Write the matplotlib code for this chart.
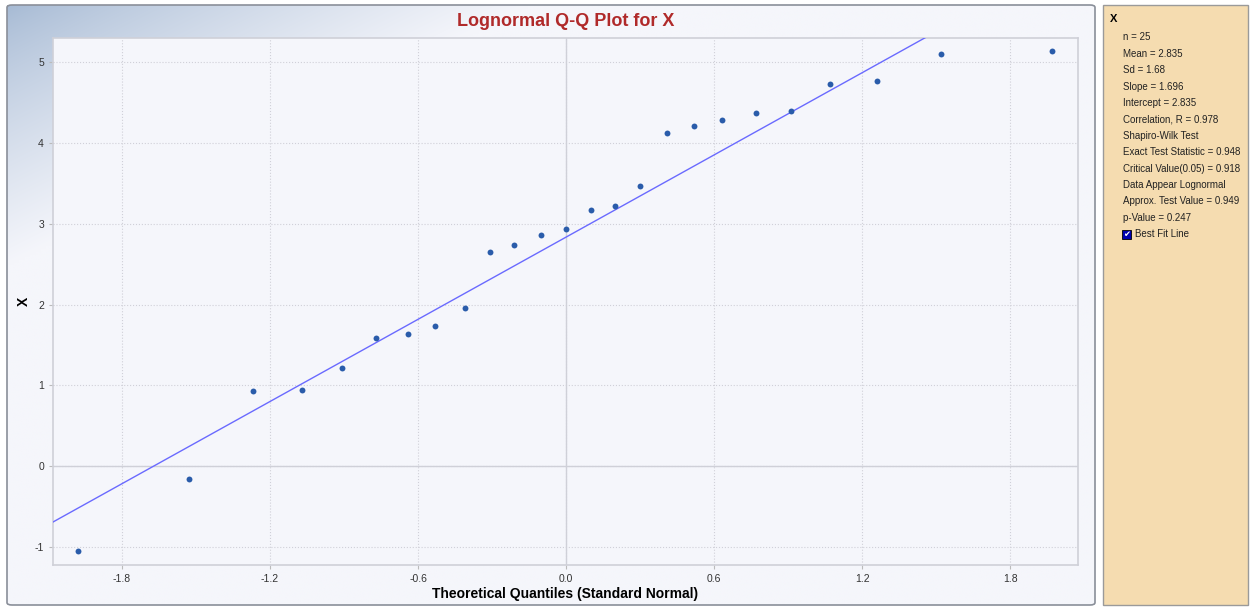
import numpy as np
import matplotlib
matplotlib.use('Agg')
import matplotlib.pyplot as plt
from matplotlib.patches import FancyBboxPatch, Rectangle

plt.rcParams['font.family'] = ['Liberation Sans', 'DejaVu Sans']
plt.rcParams['axes.unicode_minus'] = False

# 理论分位数与样本值
theo_q = [-1.98, -1.53, -1.27, -1.07, -0.91, -0.77, -0.64, -0.53, -0.41, -0.31,
          -0.21, -0.10, 0.00, 0.10, 0.20, 0.30, 0.41, 0.52, 0.63, 0.77,
          0.91, 1.07, 1.26, 1.52, 1.97]
x_vals = [-1.05, -0.16, 0.93, 0.94, 1.21, 1.58, 1.63, 1.73, 1.96, 2.65,
          2.74, 2.86, 2.93, 3.17, 3.22, 3.47, 4.12, 4.21, 4.29, 4.37,
          4.39, 4.73, 4.77, 5.10, 5.14]
slope = 1.696
intercept = 2.835
x_ticks = [-1.8, -1.2, -0.6, 0.0, 0.6, 1.2, 1.8]
y_ticks = [-1, 0, 1, 2, 3, 4, 5]
stats_lines = ['n = 25', 'Mean = 2.835', 'Sd = 1.68', 'Slope = 1.696',
               'Intercept = 2.835', 'Correlation, R = 0.978', 'Shapiro-Wilk Test',
               'Exact Test Statistic = 0.948', 'Critical Value(0.05) = 0.918',
               'Data Appear Lognormal', 'Approx. Test Value = 0.949',
               'p-Value = 0.247']

W, H = 1250, 607
fig = plt.figure(figsize=(W / 100, H / 100), dpi=100)
fig.patch.set_facecolor('white')

# 背景渐变（左上角偏蓝）
bg = fig.add_axes([7 / W, 1 - 605 / H, (1095 - 7) / W, 600 / H], zorder=0)
xx, yy = np.meshgrid(np.linspace(0, 1088, 400), np.linspace(0, 600, 220))
t = np.clip(xx / 520 + yy / 260, 0, 1) ** 0.8
c0 = np.array([166, 186, 212]) / 255
c1 = np.array([245, 246, 251]) / 255
img = c0[None, None, :] * (1 - t[..., None]) + c1[None, None, :] * t[..., None]
bg.imshow(img, aspect='auto', extent=[0, 1, 0, 1], interpolation='bilinear')
bg.set_axis_off()
fig.patches.append(FancyBboxPatch((7 / W, 1 - 605 / H), (1095 - 7) / W, 600 / H,
                                  boxstyle='round,pad=0,rounding_size=0.004',
                                  transform=fig.transFigure, facecolor='none',
                                  edgecolor='#8a8f99', linewidth=1.2, zorder=5))

# 右侧统计面板
fig.patches.append(Rectangle((1103 / W, 1 - 605 / H), (1248 - 1103) / W, 600 / H,
                             transform=fig.transFigure, facecolor='#f5dcb0',
                             edgecolor='#9a9a9a', linewidth=1.0, zorder=1))
fig.text(1110 / W, 1 - 19 / H, 'X', fontsize=8, fontweight='bold', va='center',
         color='black')
for i, s in enumerate(stats_lines):
    fig.text(1123 / W, 1 - (37.5 + i * 16.4) / H, s, fontsize=7, va='center',
             color='#222222')
yb = 37.5 + len(stats_lines) * 16.4
fig.patches.append(Rectangle((1122 / W, 1 - (yb + 4.5) / H), 9 / W, 9 / H,
                             transform=fig.transFigure, facecolor='#0000b0',
                             edgecolor='black', linewidth=0.6, zorder=6))
fig.text(1126.5 / W, 1 - yb / H, '\u2714', fontsize=6, color='white', ha='center',
         va='center', family=['DejaVu Sans'], zorder=7)
fig.text(1135 / W, 1 - yb / H, 'Best Fit Line', fontsize=7, va='center',
         color='#222222')

# 主图
ax = fig.add_axes([53 / W, 1 - 565 / H, (1078 - 53) / W, (565 - 38) / H], zorder=2)
ax.set_facecolor('#f5f6fb')
ax.set_xlim(-2.08, 2.075)
ax.set_ylim(-1.225, 5.3)
ax.grid(True, color='#d0d0d8', linestyle=':', linewidth=0.8)
ax.axhline(0, color='#cfd0d8', linewidth=1.0, zorder=1)
ax.axvline(0, color='#cfd0d8', linewidth=1.0, zorder=1)
xl = np.array(ax.get_xlim())
ax.plot(xl, intercept + slope * xl, color='#6a6aff', linewidth=1.0, zorder=3)
ax.scatter(theo_q, x_vals, s=18, color='#2a5caa', zorder=4, linewidths=0)
ax.set_xticks(x_ticks)
ax.set_xticklabels([f'{v:.1f}' for v in x_ticks])
ax.set_yticks(y_ticks)
ax.tick_params(labelsize=7.5, colors='#333333', length=3, color='#bbbbbb')
for sp in ax.spines.values():
    sp.set_color('#cfd0d8')
    sp.set_linewidth(1.2)
ax.set_xlabel('Theoretical Quantiles (Standard Normal)', fontsize=10,
              fontweight='bold', labelpad=2)
ax.set_ylabel('X', fontsize=10, fontweight='bold')
ax.yaxis.set_label_coords((31 - 53) / (1078 - 53), 0.5)
fig.text(566 / W, 1 - 22 / H, 'Lognormal Q-Q Plot for X', fontsize=13,
         fontweight='bold', color='#b02a2a', ha='center', va='center')

fig.savefig('out.png', dpi=100)
